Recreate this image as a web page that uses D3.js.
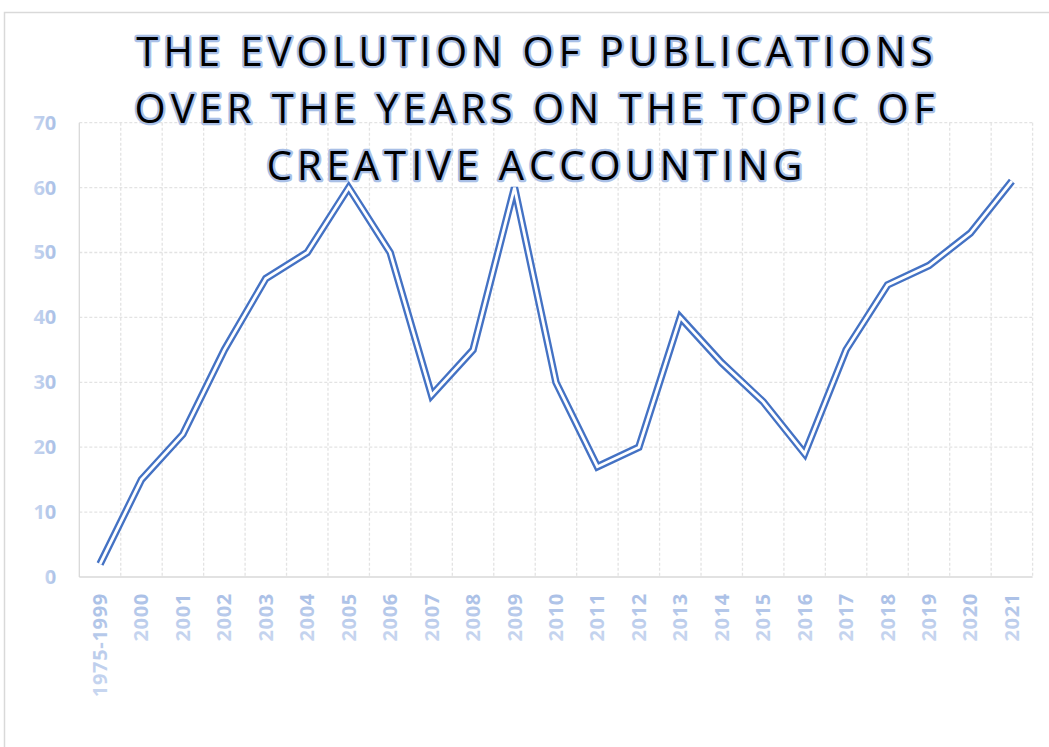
<!DOCTYPE html>
<html><head><meta charset="utf-8">
<script src="https://cdn.jsdelivr.net/npm/d3@7"></script>
<style>body{margin:0;background:#fff}svg{display:block}</style>
</head><body>
<script>
const categories = ["1975-1999","2000","2001","2002","2003","2004","2005","2006","2007","2008","2009","2010","2011","2012","2013","2014","2015","2016","2017","2018","2019","2020","2021"];
const publications = [2,15,22,35,46,50,60,50,28,35,60,30,17,20,40,33,27,19,35,45,48,53,61];
const yTicks = [0,10,20,30,40,50,60,70];
const titleLines = ["THE EVOLUTION OF PUBLICATIONS","OVER THE YEARS ON THE TOPIC OF","CREATIVE ACCOUNTING"];

(function(){
const W = 1049, H = 747;
const svg = d3.select("body").append("svg").attr("width", W).attr("height", H);
const defs = svg.append("defs");
const grad = defs.append("linearGradient").attr("id","lblgrad").attr("x1","0").attr("y1","0").attr("x2","1").attr("y2","0");
grad.append("stop").attr("offset","0%").attr("stop-color","#C9D7F0");
grad.append("stop").attr("offset","100%").attr("stop-color","#A9BFE6");

// chart border
svg.append("rect").attr("x",4.5).attr("y",12.5).attr("width",1100).attr("height",800)
  .attr("fill","none").attr("stroke","#D9D9D9").attr("stroke-width",1.5);

const pLeft = 79.3, pRight = 1032.6, pTop = 122.7, pBottom = 577;
const x = d3.scaleBand().domain(categories).range([pLeft, pRight]).padding(0);
const y = d3.scaleLinear().domain([0,70]).range([pBottom, pTop]);

// horizontal gridlines
svg.append("g").selectAll("line").data(yTicks.filter(d=>d>0)).join("line")
  .attr("x1",pLeft).attr("x2",pRight).attr("y1",d=>y(d)).attr("y2",d=>y(d))
  .attr("stroke","#E3E3E3").attr("stroke-width",1.3).attr("stroke-dasharray","3,2");
// vertical gridlines at band boundaries
const bounds = categories.map(c=>x(c)+x.bandwidth());
svg.append("g").selectAll("line").data(bounds).join("line")
  .attr("x1",d=>d).attr("x2",d=>d).attr("y1",pTop).attr("y2",pBottom)
  .attr("stroke","#E3E3E3").attr("stroke-width",1.3).attr("stroke-dasharray","3,2");
// axes lines
svg.append("line").attr("x1",pLeft).attr("x2",pLeft).attr("y1",pTop).attr("y2",pBottom).attr("stroke","#D9D9D9").attr("stroke-width",1.3);
svg.append("line").attr("x1",pLeft).attr("x2",pRight).attr("y1",pBottom).attr("y2",pBottom).attr("stroke","#D9D9D9").attr("stroke-width",1.3);

// y axis labels
const yAxis = d3.axisLeft(y).tickValues(yTicks).tickSize(0).tickPadding(23);
const ya = svg.append("g").attr("transform",`translate(${pLeft},0)`).call(yAxis);
ya.select(".domain").remove();
ya.selectAll("text").attr("font-family","'Open Sans', sans-serif").attr("font-weight","bold")
  .attr("font-size","20px").attr("fill","url(#lblgrad)");

// x axis labels
const xAxis = d3.axisBottom(x).tickSize(0).tickPadding(0);
const xa = svg.append("g").attr("transform",`translate(0,${pBottom})`).call(xAxis);
xa.select(".domain").remove();
xa.selectAll("text").attr("font-family","'Open Sans', sans-serif").attr("font-weight","bold")
  .attr("font-size","20px").attr("letter-spacing","0.7px").attr("fill","url(#lblgrad)")
  .attr("text-anchor","end").attr("dy","0.35em")
  .attr("transform","translate(0,16) rotate(-90)").attr("x",0).attr("y",0);

// line (double compound)
const line = d3.line().x((d,i)=>x(categories[i])+x.bandwidth()/2).y(d=>y(d));
svg.append("path").datum(publications).attr("d",line).attr("fill","none")
  .attr("stroke","#4472C4").attr("stroke-width",7.5).attr("stroke-linejoin","miter");
svg.append("path").datum(publications).attr("d",line).attr("fill","none")
  .attr("stroke","#FFFFFF").attr("stroke-width",2.8).attr("stroke-linejoin","miter");

// title
const tg = svg.append("g");
titleLines.forEach((t,i)=>{
  tg.append("text").attr("x",537).attr("y",66+i*57).attr("text-anchor","middle")
    .attr("font-family","'Open Sans', sans-serif").attr("font-size","40px").attr("font-weight","500")
    .attr("letter-spacing","5px")
    .attr("fill","#000").attr("stroke","#A9BFE6").attr("stroke-width",4.5)
    .attr("paint-order","stroke").attr("stroke-linejoin","round").text(t);
});
})();
</script>
</body></html>
